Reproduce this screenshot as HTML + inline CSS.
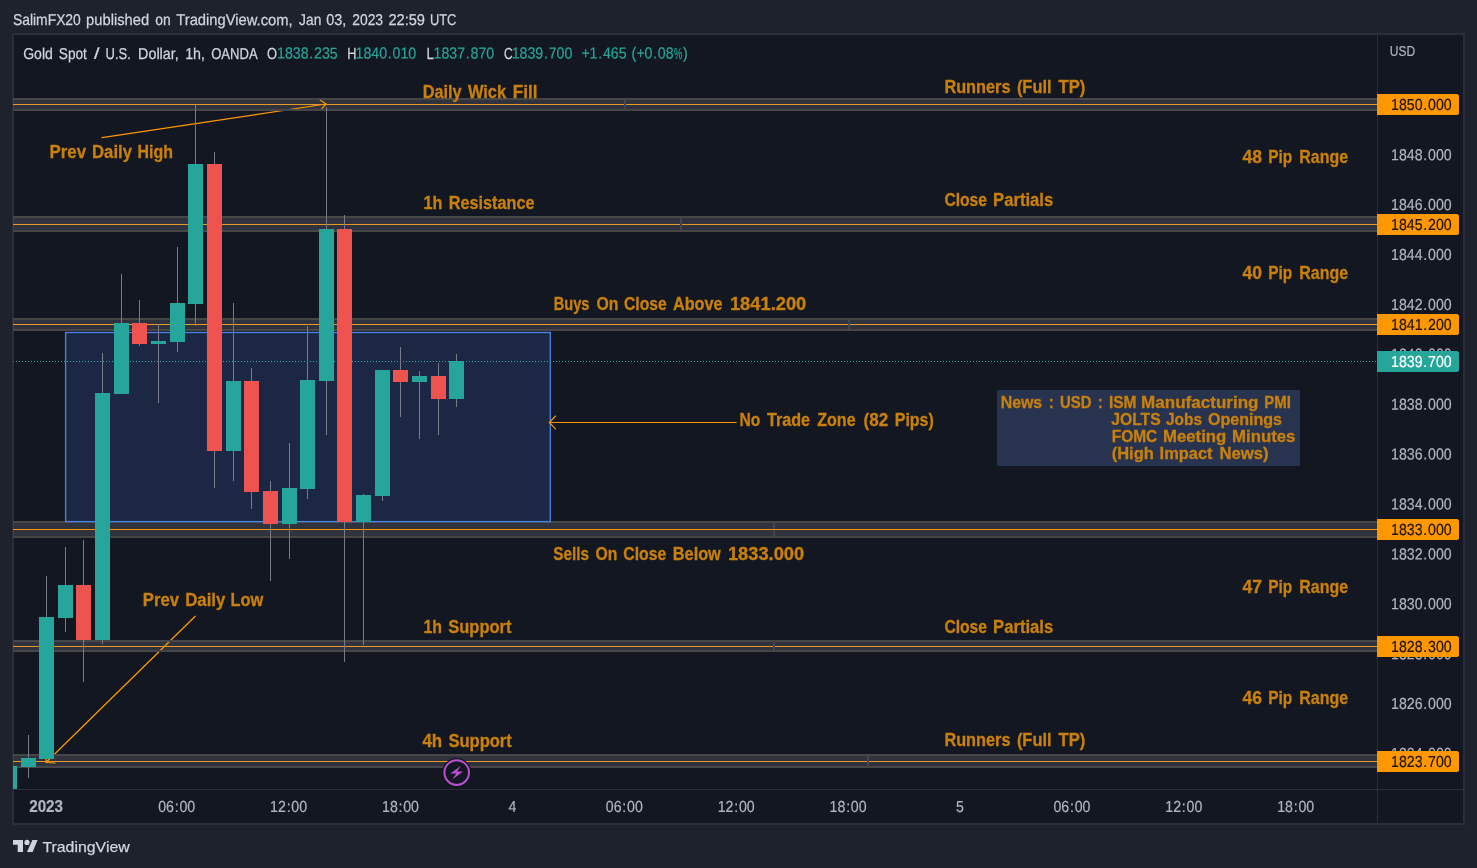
<!DOCTYPE html>
<html lang="en"><head><meta charset="utf-8"><title>Gold Spot / U.S. Dollar chart</title>
<style>html,body{margin:0;padding:0;background:#1e222d;overflow:hidden}svg{display:block;position:absolute;left:0;top:0}text{font-family:"Liberation Sans", sans-serif;font-size:15.3px;white-space:pre}.b{font-weight:bold;font-size:18.7px;fill:#c9800c;stroke:#c9800c;stroke-width:.3px}.ax{fill:#b2b5be;font-size:16px;stroke:#b2b5be;stroke-width:.2px}.t{fill:#26a69a;font-size:16px;stroke:#26a69a;stroke-width:.2px}.pl{font-size:16px}.l{fill:#d1d4dc;stroke:#d1d4dc;stroke-width:.25px}</style></head><body>
<svg width="1477" height="868" viewBox="0 0 1477 868">
<g shape-rendering="crispEdges">
<rect x="0" y="0" width="1477" height="868" fill="#1e222d"/>
<rect x="12" y="33" width="1453" height="792" fill="#2a2e39"/>
<rect x="14" y="35" width="1449" height="788" fill="#131722"/>
<rect x="1377" y="35" width="1" height="788" fill="#2a2e39"/>
<rect x="14" y="789" width="1449" height="1" fill="#2a2e39"/>
</g>
<rect x="65.5" y="332.5" width="485" height="189.5" fill="#1c2843"/>
<g shape-rendering="crispEdges">
<rect x="13" y="98" width="1364" height="13" fill="#82828a" fill-opacity="0.27"/>
<rect x="13" y="216" width="1364" height="16" fill="#82828a" fill-opacity="0.27"/>
<rect x="13" y="318" width="1364" height="13" fill="#82828a" fill-opacity="0.27"/>
<rect x="13" y="521" width="1364" height="17" fill="#82828a" fill-opacity="0.27"/>
<rect x="13" y="640" width="1364" height="12" fill="#82828a" fill-opacity="0.27"/>
<rect x="13" y="754" width="1364" height="14" fill="#82828a" fill-opacity="0.27"/>
</g>
<g stroke="#ff9800" stroke-width="1.25" fill="none" stroke-linecap="round">
<path d="M102 137.6L326.1 104M320.2 100.1L326.1 104L321.8 108.7"/>
<path d="M195.2 616.3L46 762.5M46.5 755L46 762.5L55 763"/>
</g>
<g shape-rendering="crispEdges">
<rect x="13" y="98" width="1364" height="2" fill="#464646"/>
<rect x="13" y="109" width="1364" height="2" fill="#464646"/>
<rect x="13" y="104" width="1364" height="1" fill="#e69a25"/>
<rect x="624" y="100" width="2" height="9" fill="#464646"/>
<rect x="624" y="104" width="2" height="1" fill="#35425a"/>
<rect x="13" y="216" width="1364" height="2" fill="#464646"/>
<rect x="13" y="230" width="1364" height="2" fill="#464646"/>
<rect x="13" y="224" width="1364" height="1" fill="#e69a25"/>
<rect x="680" y="218" width="2" height="12" fill="#464646"/>
<rect x="680" y="224" width="2" height="1" fill="#35425a"/>
<rect x="13" y="318" width="1364" height="2" fill="#464646"/>
<rect x="13" y="329" width="1364" height="2" fill="#464646"/>
<rect x="13" y="324" width="1364" height="1" fill="#e69a25"/>
<rect x="848" y="320" width="2" height="9" fill="#464646"/>
<rect x="848" y="324" width="2" height="1" fill="#35425a"/>
<rect x="13" y="521" width="1364" height="2" fill="#464646"/>
<rect x="13" y="536" width="1364" height="2" fill="#464646"/>
<rect x="13" y="529" width="1364" height="1" fill="#fa9a0a"/>
<rect x="773" y="523" width="2" height="13" fill="#464646"/>
<rect x="773" y="529" width="2" height="1" fill="#fa9a0a"/>
<rect x="13" y="640" width="1364" height="2" fill="#464646"/>
<rect x="13" y="650" width="1364" height="2" fill="#464646"/>
<rect x="13" y="646" width="1364" height="1" fill="#e69a25"/>
<rect x="773" y="642" width="2" height="8" fill="#464646"/>
<rect x="773" y="646" width="2" height="1" fill="#35425a"/>
<rect x="13" y="754" width="1364" height="2" fill="#464646"/>
<rect x="13" y="766" width="1364" height="2" fill="#464646"/>
<rect x="13" y="761" width="1364" height="1" fill="#e69a25"/>
<rect x="867" y="756" width="2" height="10" fill="#464646"/>
<rect x="867" y="761" width="2" height="1" fill="#35425a"/>
</g>
<rect x="65.6" y="332.5" width="484.7" height="189.1" fill="none" stroke="#4a86e8" stroke-width="1.3"/>
<path d="M736.2 422.5L549.4 422.5M555.5 416L549.4 422.5L555.5 428.9" stroke="#ff9800" stroke-width="1.1" fill="none" stroke-linecap="round"/>
<text y="158" class="b"><tspan x="49.5" textLength="36.5" lengthAdjust="spacingAndGlyphs">Prev</tspan> <tspan x="92.1" textLength="39.8" lengthAdjust="spacingAndGlyphs">Daily</tspan> <tspan x="137.6" textLength="35.4" lengthAdjust="spacingAndGlyphs">High</tspan></text>
<text y="606" class="b"><tspan x="142.8" textLength="36.2" lengthAdjust="spacingAndGlyphs">Prev</tspan> <tspan x="185.2" textLength="40.1" lengthAdjust="spacingAndGlyphs">Daily</tspan> <tspan x="230.5" textLength="32.7" lengthAdjust="spacingAndGlyphs">Low</tspan></text>
<text y="98" class="b"><tspan x="422.7" textLength="38.9" lengthAdjust="spacingAndGlyphs">Daily</tspan> <tspan x="467.9" textLength="38.3" lengthAdjust="spacingAndGlyphs">Wick</tspan> <tspan x="512.8" textLength="24.6" lengthAdjust="spacingAndGlyphs">Fill</tspan></text>
<text y="208.8" class="b"><tspan x="423.4" textLength="18.9" lengthAdjust="spacingAndGlyphs">1h</tspan> <tspan x="448.8" textLength="85.7" lengthAdjust="spacingAndGlyphs">Resistance</tspan></text>
<text y="309.6" class="b"><tspan x="553.8" textLength="35.7" lengthAdjust="spacingAndGlyphs">Buys</tspan> <tspan x="596.4" textLength="21.9" lengthAdjust="spacingAndGlyphs">On</tspan> <tspan x="624" textLength="42.6" lengthAdjust="spacingAndGlyphs">Close</tspan> <tspan x="673" textLength="49.5" lengthAdjust="spacingAndGlyphs">Above</tspan> <tspan x="729.9" textLength="76.4" lengthAdjust="spacingAndGlyphs">1841.200</tspan></text>
<text y="559.9" class="b"><tspan x="553.2" textLength="35.8" lengthAdjust="spacingAndGlyphs">Sells</tspan> <tspan x="595.6" textLength="21.8" lengthAdjust="spacingAndGlyphs">On</tspan> <tspan x="623.3" textLength="43" lengthAdjust="spacingAndGlyphs">Close</tspan> <tspan x="672.8" textLength="48" lengthAdjust="spacingAndGlyphs">Below</tspan> <tspan x="727.9" textLength="76.3" lengthAdjust="spacingAndGlyphs">1833.000</tspan></text>
<text y="633.1" class="b"><tspan x="423.4" textLength="18.6" lengthAdjust="spacingAndGlyphs">1h</tspan> <tspan x="448.3" textLength="63.2" lengthAdjust="spacingAndGlyphs">Support</tspan></text>
<text y="747.1" class="b"><tspan x="422.4" textLength="19.8" lengthAdjust="spacingAndGlyphs">4h</tspan> <tspan x="448.4" textLength="63.4" lengthAdjust="spacingAndGlyphs">Support</tspan></text>
<text y="93" class="b"><tspan x="944.4" textLength="66.1" lengthAdjust="spacingAndGlyphs">Runners</tspan> <tspan x="1016.9" textLength="34.7" lengthAdjust="spacingAndGlyphs">(Full</tspan> <tspan x="1058.6" textLength="26.8" lengthAdjust="spacingAndGlyphs">TP)</tspan></text>
<text y="205.9" class="b"><tspan x="944.4" textLength="42.6" lengthAdjust="spacingAndGlyphs">Close</tspan> <tspan x="993.1" textLength="60.1" lengthAdjust="spacingAndGlyphs">Partials</tspan></text>
<text y="633" class="b"><tspan x="944.4" textLength="42.6" lengthAdjust="spacingAndGlyphs">Close</tspan> <tspan x="993.1" textLength="60.1" lengthAdjust="spacingAndGlyphs">Partials</tspan></text>
<text y="746.1" class="b"><tspan x="944.4" textLength="66.1" lengthAdjust="spacingAndGlyphs">Runners</tspan> <tspan x="1016.9" textLength="34.7" lengthAdjust="spacingAndGlyphs">(Full</tspan> <tspan x="1058.6" textLength="26.8" lengthAdjust="spacingAndGlyphs">TP)</tspan></text>
<text y="163.1" class="b"><tspan x="1242.4" textLength="19.5" lengthAdjust="spacingAndGlyphs">48</tspan> <tspan x="1268.3" textLength="24" lengthAdjust="spacingAndGlyphs">Pip</tspan> <tspan x="1299.3" textLength="48.8" lengthAdjust="spacingAndGlyphs">Range</tspan></text>
<text y="279" class="b"><tspan x="1242.4" textLength="19.5" lengthAdjust="spacingAndGlyphs">40</tspan> <tspan x="1268.3" textLength="24" lengthAdjust="spacingAndGlyphs">Pip</tspan> <tspan x="1299.3" textLength="48.8" lengthAdjust="spacingAndGlyphs">Range</tspan></text>
<text y="592.9" class="b"><tspan x="1242.4" textLength="19.5" lengthAdjust="spacingAndGlyphs">47</tspan> <tspan x="1268.3" textLength="24" lengthAdjust="spacingAndGlyphs">Pip</tspan> <tspan x="1299.3" textLength="48.8" lengthAdjust="spacingAndGlyphs">Range</tspan></text>
<text y="704.4" class="b"><tspan x="1242.4" textLength="19.5" lengthAdjust="spacingAndGlyphs">46</tspan> <tspan x="1268.3" textLength="24" lengthAdjust="spacingAndGlyphs">Pip</tspan> <tspan x="1299.3" textLength="48.8" lengthAdjust="spacingAndGlyphs">Range</tspan></text>
<text y="426" class="b"><tspan x="739.6" textLength="20.8" lengthAdjust="spacingAndGlyphs">No</tspan> <tspan x="766.9" textLength="43.2" lengthAdjust="spacingAndGlyphs">Trade</tspan> <tspan x="817.2" textLength="38.4" lengthAdjust="spacingAndGlyphs">Zone</tspan> <tspan x="863.6" textLength="24.7" lengthAdjust="spacingAndGlyphs">(82</tspan> <tspan x="894.8" textLength="39" lengthAdjust="spacingAndGlyphs">Pips)</tspan></text>
<line x1="16" y1="361.5" x2="1377" y2="361.5" stroke="#2bb0a3" stroke-width="1" stroke-dasharray="1 2" shape-rendering="crispEdges"/>
<rect x="13" y="361" width="1" height="1" fill="#2a7f7c"/>
<g shape-rendering="crispEdges">
<rect x="13" y="766" width="4" height="23" fill="#26a69a"/>
<rect x="28" y="735" width="1" height="43" fill="#787b86"/>
<rect x="46" y="576" width="1" height="183" fill="#787b86"/>
<rect x="65" y="547" width="1" height="85" fill="#787b86"/>
<rect x="83" y="540" width="1" height="142" fill="#787b86"/>
<rect x="102" y="353" width="1" height="291" fill="#787b86"/>
<rect x="121" y="274" width="1" height="120" fill="#787b86"/>
<rect x="139" y="300" width="1" height="46" fill="#787b86"/>
<rect x="158" y="324" width="1" height="79" fill="#787b86"/>
<rect x="177" y="247" width="1" height="105" fill="#787b86"/>
<rect x="195" y="105" width="1" height="221" fill="#787b86"/>
<rect x="214" y="152" width="1" height="336" fill="#787b86"/>
<rect x="233" y="303" width="1" height="178" fill="#787b86"/>
<rect x="251" y="368" width="1" height="141" fill="#787b86"/>
<rect x="270" y="481" width="1" height="100" fill="#787b86"/>
<rect x="289" y="443" width="1" height="116" fill="#787b86"/>
<rect x="307" y="326" width="1" height="173" fill="#787b86"/>
<rect x="326" y="107" width="1" height="328" fill="#787b86"/>
<rect x="344" y="215" width="1" height="447" fill="#787b86"/>
<rect x="363" y="494" width="1" height="151" fill="#787b86"/>
<rect x="382" y="370" width="1" height="131" fill="#787b86"/>
<rect x="400" y="347" width="1" height="70" fill="#787b86"/>
<rect x="419" y="371" width="1" height="68" fill="#787b86"/>
<rect x="438" y="363" width="1" height="72" fill="#787b86"/>
<rect x="456" y="354" width="1" height="53" fill="#787b86"/>
<rect x="21" y="758" width="15" height="9" fill="#26a69a"/>
<rect x="39" y="617" width="15" height="142" fill="#26a69a"/>
<rect x="58" y="585" width="15" height="33" fill="#26a69a"/>
<rect x="76" y="585" width="15" height="55" fill="#ef5350"/>
<rect x="95" y="393" width="15" height="247" fill="#26a69a"/>
<rect x="114" y="323" width="15" height="71" fill="#26a69a"/>
<rect x="132" y="323" width="15" height="21" fill="#ef5350"/>
<rect x="151" y="341" width="15" height="3" fill="#26a69a"/>
<rect x="170" y="303" width="15" height="39" fill="#26a69a"/>
<rect x="188" y="164" width="15" height="140" fill="#26a69a"/>
<rect x="207" y="164" width="15" height="287" fill="#ef5350"/>
<rect x="226" y="381" width="15" height="70" fill="#26a69a"/>
<rect x="244" y="381" width="15" height="111" fill="#ef5350"/>
<rect x="263" y="491" width="15" height="33" fill="#ef5350"/>
<rect x="282" y="488" width="15" height="36" fill="#26a69a"/>
<rect x="300" y="380" width="15" height="109" fill="#26a69a"/>
<rect x="319" y="229" width="15" height="152" fill="#26a69a"/>
<rect x="337" y="229" width="15" height="293" fill="#ef5350"/>
<rect x="356" y="495" width="15" height="27" fill="#26a69a"/>
<rect x="375" y="370" width="15" height="126" fill="#26a69a"/>
<rect x="393" y="370" width="15" height="12" fill="#ef5350"/>
<rect x="412" y="376" width="15" height="6" fill="#26a69a"/>
<rect x="431" y="376" width="15" height="23" fill="#ef5350"/>
<rect x="449" y="361" width="15" height="38" fill="#26a69a"/>
</g>
<rect x="997" y="390" width="303" height="76" fill="#28344f" shape-rendering="crispEdges"/>
<text y="407.6" class="b" style="font-size:17.4px"><tspan x="1000.7" textLength="41.5" lengthAdjust="spacingAndGlyphs">News</tspan> <tspan x="1049" textLength="4.7" lengthAdjust="spacingAndGlyphs">:</tspan> <tspan x="1060.1" textLength="31.5" lengthAdjust="spacingAndGlyphs">USD</tspan> <tspan x="1097.9" textLength="4.6" lengthAdjust="spacingAndGlyphs">:</tspan> <tspan x="1108.9" textLength="27.6" lengthAdjust="spacingAndGlyphs">ISM</tspan> <tspan x="1141.1" textLength="117.4" lengthAdjust="spacingAndGlyphs">Manufacturing</tspan> <tspan x="1264.3" textLength="26.5" lengthAdjust="spacingAndGlyphs">PMI</tspan></text>
<text y="424.5" class="b" style="font-size:17.4px"><tspan x="1111.2" textLength="49.5" lengthAdjust="spacingAndGlyphs">JOLTS</tspan> <tspan x="1166" textLength="36.1" lengthAdjust="spacingAndGlyphs">Jobs</tspan> <tspan x="1207.9" textLength="74.1" lengthAdjust="spacingAndGlyphs">Openings</tspan></text>
<text y="442.2" class="b" style="font-size:17.4px"><tspan x="1111.7" textLength="45.6" lengthAdjust="spacingAndGlyphs">FOMC</tspan> <tspan x="1163" textLength="63.3" lengthAdjust="spacingAndGlyphs">Meeting</tspan> <tspan x="1232.1" textLength="63.3" lengthAdjust="spacingAndGlyphs">Minutes</tspan></text>
<text y="459.4" class="b" style="font-size:17.4px"><tspan x="1111.7" textLength="42.1" lengthAdjust="spacingAndGlyphs">(High</tspan> <tspan x="1159.6" textLength="52.9" lengthAdjust="spacingAndGlyphs">Impact</tspan> <tspan x="1219.4" textLength="49.1" lengthAdjust="spacingAndGlyphs">News)</tspan></text>
<circle cx="456.7" cy="772.6" r="14.6" fill="#131722"/>
<circle cx="456.7" cy="772.6" r="12.3" fill="#131722" stroke="#ba50cf" stroke-width="2"/>
<path d="M460.9 765.8L450.3 773.5L456.3 773.5L452.4 779.4L463 771.5L457 771.5Z" fill="#ba50cf"/>
<text transform="translate(1391.1,160.2) rotate(.03) scale(0.8842,1)" x="0.00 8.90 17.79 26.69 36.47 41.80 50.70 59.60" style="font-size:16px" class="ax">1848.000</text>
<text transform="translate(1391.1,210.1) rotate(.03) scale(0.8842,1)" x="0.00 8.90 17.79 26.69 36.47 41.80 50.70 59.60" style="font-size:16px" class="ax">1846.000</text>
<text transform="translate(1391.1,260) rotate(.03) scale(0.8842,1)" x="0.00 8.90 17.79 26.69 36.47 41.80 50.70 59.60" style="font-size:16px" class="ax">1844.000</text>
<text transform="translate(1391.1,309.9) rotate(.03) scale(0.8842,1)" x="0.00 8.90 17.79 26.69 36.47 41.80 50.70 59.60" style="font-size:16px" class="ax">1842.000</text>
<text transform="translate(1391.1,359.8) rotate(.03) scale(0.8842,1)" x="0.00 8.90 17.79 26.69 36.47 41.80 50.70 59.60" style="font-size:16px" class="ax">1840.000</text>
<text transform="translate(1391.1,409.7) rotate(.03) scale(0.8842,1)" x="0.00 8.90 17.79 26.69 36.47 41.80 50.70 59.60" style="font-size:16px" class="ax">1838.000</text>
<text transform="translate(1391.1,459.6) rotate(.03) scale(0.8842,1)" x="0.00 8.90 17.79 26.69 36.47 41.80 50.70 59.60" style="font-size:16px" class="ax">1836.000</text>
<text transform="translate(1391.1,509.5) rotate(.03) scale(0.8842,1)" x="0.00 8.90 17.79 26.69 36.47 41.80 50.70 59.60" style="font-size:16px" class="ax">1834.000</text>
<text transform="translate(1391.1,559.4) rotate(.03) scale(0.8842,1)" x="0.00 8.90 17.79 26.69 36.47 41.80 50.70 59.60" style="font-size:16px" class="ax">1832.000</text>
<text transform="translate(1391.1,609.3) rotate(.03) scale(0.8842,1)" x="0.00 8.90 17.79 26.69 36.47 41.80 50.70 59.60" style="font-size:16px" class="ax">1830.000</text>
<text transform="translate(1391.1,659.2) rotate(.03) scale(0.8842,1)" x="0.00 8.90 17.79 26.69 36.47 41.80 50.70 59.60" style="font-size:16px" class="ax">1828.000</text>
<text transform="translate(1391.1,709.1) rotate(.03) scale(0.8842,1)" x="0.00 8.90 17.79 26.69 36.47 41.80 50.70 59.60" style="font-size:16px" class="ax">1826.000</text>
<text transform="translate(1391.1,759) rotate(.03) scale(0.8842,1)" x="0.00 8.90 17.79 26.69 36.47 41.80 50.70 59.60" style="font-size:16px" class="ax">1824.000</text>
<text x="1389.8" y="55.9" class="ax" textLength="25.4" lengthAdjust="spacingAndGlyphs" style="font-size:15.3px">USD</text>
<path d="M1377 94 H1456.5 Q1459 94 1459 96.5 V112.5 Q1459 115 1456.5 115 H1377Z" fill="#ff9800"/>
<text transform="translate(1391.1,109.9) rotate(.03) scale(0.8842,1)" x="0.00 8.90 17.79 26.69 36.47 41.80 50.70 59.60" style="font-size:16px" class="pl" fill="#1f1300" stroke="#1f1300" stroke-width=".2">1850.000</text>
<path d="M1377 214 H1456.5 Q1459 214 1459 216.5 V232.5 Q1459 235 1456.5 235 H1377Z" fill="#ff9800"/>
<text transform="translate(1391.1,229.9) rotate(.03) scale(0.8842,1)" x="0.00 8.90 17.79 26.69 36.47 41.80 50.70 59.60" style="font-size:16px" class="pl" fill="#1f1300" stroke="#1f1300" stroke-width=".2">1845.200</text>
<path d="M1377 314 H1456.5 Q1459 314 1459 316.5 V332.5 Q1459 335 1456.5 335 H1377Z" fill="#ff9800"/>
<text transform="translate(1391.1,329.9) rotate(.03) scale(0.8842,1)" x="0.00 8.90 17.79 26.69 36.47 41.80 50.70 59.60" style="font-size:16px" class="pl" fill="#1f1300" stroke="#1f1300" stroke-width=".2">1841.200</text>
<path d="M1377 519 H1456.5 Q1459 519 1459 521.5 V537.5 Q1459 540 1456.5 540 H1377Z" fill="#ff9800"/>
<text transform="translate(1391.1,534.9) rotate(.03) scale(0.8842,1)" x="0.00 8.90 17.79 26.69 36.47 41.80 50.70 59.60" style="font-size:16px" class="pl" fill="#1f1300" stroke="#1f1300" stroke-width=".2">1833.000</text>
<path d="M1377 636 H1456.5 Q1459 636 1459 638.5 V654.5 Q1459 657 1456.5 657 H1377Z" fill="#ff9800"/>
<text transform="translate(1391.1,651.9) rotate(.03) scale(0.8842,1)" x="0.00 8.90 17.79 26.69 36.47 41.80 50.70 59.60" style="font-size:16px" class="pl" fill="#1f1300" stroke="#1f1300" stroke-width=".2">1828.300</text>
<path d="M1377 751 H1456.5 Q1459 751 1459 753.5 V769.5 Q1459 772 1456.5 772 H1377Z" fill="#ff9800"/>
<text transform="translate(1391.1,766.9) rotate(.03) scale(0.8842,1)" x="0.00 8.90 17.79 26.69 36.47 41.80 50.70 59.60" style="font-size:16px" class="pl" fill="#1f1300" stroke="#1f1300" stroke-width=".2">1823.700</text>
<path d="M1377 351 H1456.5 Q1459 351 1459 353.5 V369.5 Q1459 372 1456.5 372 H1377Z" fill="#26a69a"/>
<text transform="translate(1391.1,366.9) rotate(.03) scale(0.8842,1)" x="0.00 8.90 17.79 26.69 36.47 41.80 50.70 59.60" style="font-size:16px" class="pl" fill="#ffffff" stroke="#ffffff" stroke-width=".2">1839.700</text>
<text transform="translate(158.218,812) rotate(.03) scale(0.8842,1)" x="0.00 8.90 18.68 24.01 32.91" style="font-size:16px" class="ax">06:00</text>
<text transform="translate(270.118,812) rotate(.03) scale(0.8842,1)" x="0.00 8.90 18.68 24.01 32.91" style="font-size:16px" class="ax">12:00</text>
<text transform="translate(382.018,812) rotate(.03) scale(0.8842,1)" x="0.00 8.90 18.68 24.01 32.91" style="font-size:16px" class="ax">18:00</text>
<text transform="translate(508.467,812) rotate(.03) scale(0.8842,1)" x="0.00" style="font-size:16px" class="ax">4</text>
<text transform="translate(605.818,812) rotate(.03) scale(0.8842,1)" x="0.00 8.90 18.68 24.01 32.91" style="font-size:16px" class="ax">06:00</text>
<text transform="translate(717.718,812) rotate(.03) scale(0.8842,1)" x="0.00 8.90 18.68 24.01 32.91" style="font-size:16px" class="ax">12:00</text>
<text transform="translate(829.618,812) rotate(.03) scale(0.8842,1)" x="0.00 8.90 18.68 24.01 32.91" style="font-size:16px" class="ax">18:00</text>
<text transform="translate(956.067,812) rotate(.03) scale(0.8842,1)" x="0.00" style="font-size:16px" class="ax">5</text>
<text transform="translate(1053.42,812) rotate(.03) scale(0.8842,1)" x="0.00 8.90 18.68 24.01 32.91" style="font-size:16px" class="ax">06:00</text>
<text transform="translate(1165.32,812) rotate(.03) scale(0.8842,1)" x="0.00 8.90 18.68 24.01 32.91" style="font-size:16px" class="ax">12:00</text>
<text transform="translate(1277.22,812) rotate(.03) scale(0.8842,1)" x="0.00 8.90 18.68 24.01 32.91" style="font-size:16px" class="ax">18:00</text>
<text x="29.2" y="812" class="ax" textLength="33.8" lengthAdjust="spacingAndGlyphs" font-weight="bold">2023</text>
<text transform="translate(0,25) rotate(.03)" class="l" style="font-size:15.7px"><tspan x="13" textLength="67.8" lengthAdjust="spacingAndGlyphs">SalimFX20</tspan> <tspan x="86.1" textLength="63.1" lengthAdjust="spacingAndGlyphs">published</tspan> <tspan x="155.2" textLength="15.4" lengthAdjust="spacingAndGlyphs">on</tspan> <tspan x="176.3" textLength="116.3" lengthAdjust="spacingAndGlyphs">TradingView.com,</tspan> <tspan x="299.1" textLength="22.2" lengthAdjust="spacingAndGlyphs">Jan</tspan> <tspan x="326.2" textLength="20" lengthAdjust="spacingAndGlyphs">03,</tspan> <tspan x="352.2" textLength="30.9" lengthAdjust="spacingAndGlyphs">2023</tspan> <tspan x="388.4" textLength="36.6" lengthAdjust="spacingAndGlyphs">22:59</tspan> <tspan x="429.9" textLength="26.5" lengthAdjust="spacingAndGlyphs">UTC</tspan></text>
<text transform="translate(0,58.6) rotate(.03)" class="l" style="font-size:15.7px"><tspan x="23.2" textLength="29.6" lengthAdjust="spacingAndGlyphs">Gold</tspan> <tspan x="58.8" textLength="28.1" lengthAdjust="spacingAndGlyphs">Spot</tspan> <tspan x="93.9" textLength="5.5" lengthAdjust="spacingAndGlyphs">/</tspan> <tspan x="105.6" textLength="25.2" lengthAdjust="spacingAndGlyphs">U.S.</tspan> <tspan x="138.1" textLength="40.6" lengthAdjust="spacingAndGlyphs">Dollar,</tspan> <tspan x="185.2" textLength="19.8" lengthAdjust="spacingAndGlyphs">1h,</tspan> <tspan x="211.2" textLength="46.4" lengthAdjust="spacingAndGlyphs">OANDA</tspan></text>
<text transform="translate(267,58.6) rotate(.03)" class="l" textLength="10" lengthAdjust="spacingAndGlyphs" style="font-size:16px">O</text>
<text transform="translate(277.1,58.6) rotate(.03) scale(0.8842,1)" x="0.00 8.90 17.79 26.69 36.47 41.80 50.70 59.60" style="font-size:16px" class="t">1838.235</text>
<text transform="translate(347.3,58.6) rotate(.03)" class="l" textLength="9.2" lengthAdjust="spacingAndGlyphs" style="font-size:16px">H</text>
<text transform="translate(355.6,58.6) rotate(.03) scale(0.8842,1)" x="0.00 8.90 17.79 26.69 36.47 41.80 50.70 59.60" style="font-size:16px" class="t">1840.010</text>
<text transform="translate(426.6,58.6) rotate(.03)" class="l" textLength="7.4" lengthAdjust="spacingAndGlyphs" style="font-size:16px">L</text>
<text transform="translate(433.6,58.6) rotate(.03) scale(0.8842,1)" x="0.00 8.90 17.79 26.69 36.47 41.80 50.70 59.60" style="font-size:16px" class="t">1837.870</text>
<text transform="translate(504,58.6) rotate(.03)" class="l" textLength="8.7" lengthAdjust="spacingAndGlyphs" style="font-size:16px">C</text>
<text transform="translate(511.7,58.6) rotate(.03) scale(0.8842,1)" x="0.00 8.90 17.79 26.69 36.47 41.80 50.70 59.60" style="font-size:16px" class="t">1839.700</text>
<text transform="translate(581.7,58.6) rotate(.03) scale(0.8842,1)" x="-0.22 8.90 18.68 24.01 32.91 41.80" style="font-size:16px" class="t">+1.465</text>
<text transform="translate(631.1,58.6) rotate(.03) scale(0.8842,1)" x="0.45 6.00 15.12 24.90 30.23 39.13" style="font-size:16px" class="t">(+0.08</text>
<text transform="translate(682.56,58.6) rotate(.03) scale(0.8842,1)" x="0.45" style="font-size:16px" class="t">)</text>
<text transform="translate(674,58.6) rotate(.03)" class="t" textLength="8.3" lengthAdjust="spacingAndGlyphs">%</text>
<g fill="#d1d4dc">
<path d="M13 840H23V852H17.7V844.8H13Z"/>
<circle cx="27" cy="842.4" r="2.6"/>
<path d="M32.4 840H37.6L32.6 852H27Z"/>
</g>
<text x="42.4" y="852" class="l" textLength="87.3" lengthAdjust="spacingAndGlyphs" font-size="16px">TradingView</text>
</svg></body></html>
